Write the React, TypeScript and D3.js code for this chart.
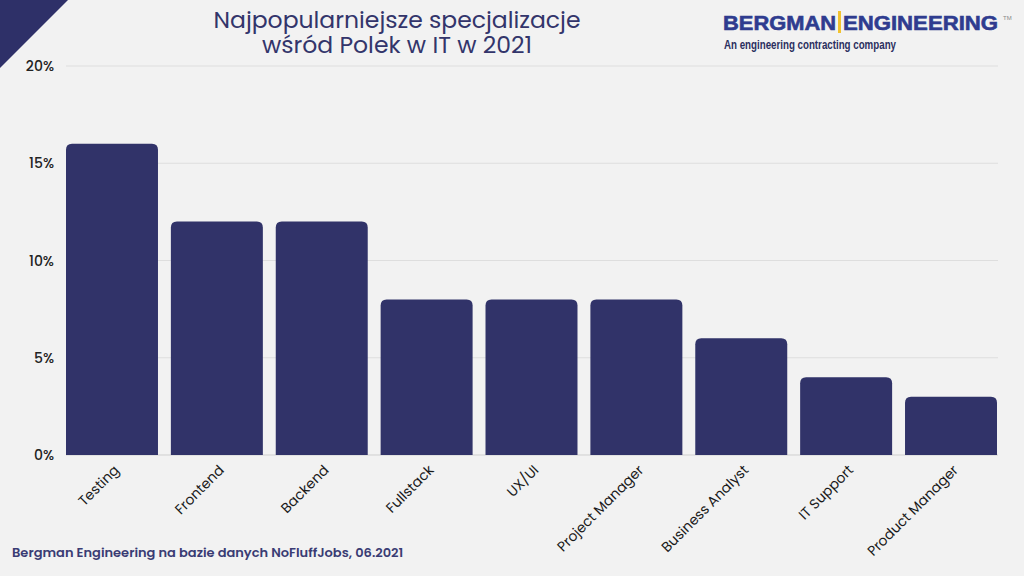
import React from "react";
import * as d3 from "d3";

const categories = ["Testing", "Frontend", "Backend", "Fullstack", "UX/UI", "Project Manager", "Business Analyst", "IT Support", "Product Manager"];
const values = [16, 12, 12, 8, 8, 8, 6, 4, 3];
const yTicks = [0, 5, 10, 15, 20];
const titleLines = ["Najpopularniejsze specjalizacje", "wśród Polek w IT w 2021"];
const footer = "Bergman Engineering na bazie danych NoFluffJobs, 06.2021";

const W = 1024, H = 576;
const left = 66, right = 997, top = 66, bottom = 455;
const navy = "#313369";
const font = "Poppins, 'Noto Sans', Inter, sans-serif";

function roundedTopBar(x: number, y: number, w: number, h: number, r: number) {
  const rr = Math.min(r, h / 2, w / 2);
  return `M${x},${y + h}V${y + rr}Q${x},${y} ${x + rr},${y}H${x + w - rr}Q${x + w},${y} ${x + w},${y + rr}V${y + h}Z`;
}

export default function App() {
  const x = d3.scaleBand<string>().domain(categories).range([left, right]).paddingInner(0.123).paddingOuter(0);
  const y = d3.scaleLinear().domain([0, 20]).range([bottom, top]);
  return (
    <svg width={W} height={H} style={{ position: "absolute", left: 0, top: 0, background: "#f2f2f2" }}>
      <rect x={0} y={0} width={W} height={H} fill="#f2f2f2" />
      <path d="M0,0H68L0,68Z" fill="#2e3068" />
      <g fontFamily={font} fill="#33356b" fontSize={23.5} textAnchor="middle">
        <text x={397} y={28}>{titleLines[0]}</text>
        <text x={397} y={53}>{titleLines[1]}</text>
      </g>
      <g>
        <text x={723} y={30} fontFamily="'Liberation Sans', Arial, sans-serif" fontWeight={900} fontSize={20.5} fill="#2f3c8f" stroke="#2f3c8f" strokeWidth={0.6} textLength={113} lengthAdjust="spacingAndGlyphs">BERGMAN</text>
        <rect x={838} y={11} width={3} height={22} fill="#f2c230" />
        <text x={843} y={30} fontFamily="'Liberation Sans', Arial, sans-serif" fontWeight={900} fontSize={20.5} fill="#2f3c8f" stroke="#2f3c8f" strokeWidth={0.6} textLength={155} lengthAdjust="spacingAndGlyphs">ENGINEERING</text>
        <text x={1003} y={20} fontFamily="'Liberation Sans', Arial, sans-serif" fontSize={6} fill="#888">TM</text>
        <text x={724} y={49} fontFamily="'Liberation Sans Narrow', 'Liberation Sans', sans-serif" fontWeight={700} fontSize={12} fill="#2b2f5e" textLength={172} lengthAdjust="spacingAndGlyphs">An engineering contracting company</text>
      </g>
      <g>
        {yTicks.map((t) => (
          <g key={t}>
            <line x1={left} x2={998} y1={y(t)} y2={y(t)} stroke={t === 0 ? "#cfcfcf" : "#dedede"} strokeWidth={1} />
            <text x={54} y={y(t) + 5} textAnchor="end" fontFamily={font} fontWeight={500} fontSize={14} fill="#222">{`${t}%`}</text>
          </g>
        ))}
      </g>
      <g>
        {categories.map((c, i) => (
          <path key={c} d={roundedTopBar(x(c)!, y(values[i]), x.bandwidth(), bottom - y(values[i]), 6)} fill={navy} />
        ))}
      </g>
      <g fontFamily={font} fontSize={14} fill="#1a1a1a">
        {categories.map((c) => {
          const cx = x(c)! + x.bandwidth() / 2 + 8;
          const cy = 471;
          return (
            <text key={c} x={cx} y={cy} textAnchor="end" transform={`rotate(-45 ${cx} ${cy})`}>{c}</text>
          );
        })}
      </g>
      <text x={12} y={557} fontFamily={font} fontWeight={600} fontSize={13} fill="#3a3c74">{footer}</text>
    </svg>
  );
}
